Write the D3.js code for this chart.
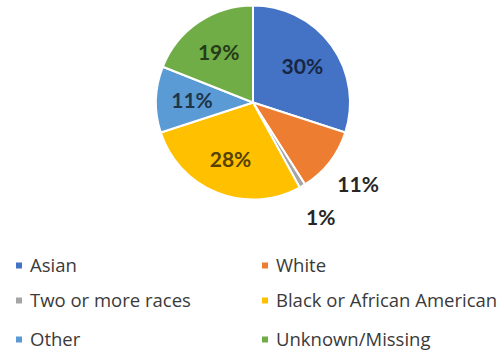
<!DOCTYPE html>
<html>
<head>
<meta charset="utf-8">
<script src="https://cdn.jsdelivr.net/npm/d3@7"></script>
<style>
  html, body { margin: 0; padding: 0; background: #fff; }
  svg { display: block; }
</style>
</head>
<body>
<svg id="chart" width="503" height="354"></svg>
<script>
// Share of respondents by race (percent)
const categories = ["Asian", "White", "Two or more races", "Black or African American", "Other", "Unknown/Missing"];
const values = [30, 11, 1, 28, 11, 19];
const colors = ["#4472C4", "#ED7D31", "#A5A5A5", "#FFC000", "#5B9BD5", "#70AD47"];
// Slices too thin for an inside label get theirs placed outside the pie
const outsideLabels = ["White", "Two or more races"];

const svg = d3.select("#chart");

const cx = 253, cy = 102.5, radius = 97;
const color = d3.scaleOrdinal().domain(categories).range(colors);

const pie = d3.pie().sort(null).value(d => d.value);
const data = categories.map((c, i) => ({ name: c, value: values[i] }));
const arcs = pie(data);

const arc = d3.arc().innerRadius(0).outerRadius(radius);
const inLabel = d3.arc().innerRadius(61).outerRadius(61);
const outLabel = d3.arc().innerRadius(133).outerRadius(133);

const g = svg.append("g").attr("transform", `translate(${cx},${cy})`);

g.selectAll("path.slice")
  .data(arcs)
  .join("path")
  .attr("class", "slice")
  .attr("d", arc)
  .attr("fill", d => color(d.data.name))
  .attr("stroke", "#fff")
  .attr("stroke-width", 2)
  .attr("stroke-linejoin", "round");

g.selectAll("text.pct")
  .data(arcs)
  .join("text")
  .attr("class", "pct")
  .attr("transform", d => {
    const out = outsideLabels.includes(d.data.name);
    const [x, y] = (out ? outLabel : inLabel).centroid(d);
    return `translate(${x},${y})`;
  })
  .attr("text-anchor", "middle")
  .attr("dy", "0.36em")
  .attr("font-family", "Lato, 'Open Sans', sans-serif")
  .attr("font-weight", "bold")
  .attr("font-size", 21)
  .attr("fill", d => outsideLabels.includes(d.data.name)
    ? "#262626"
    : d3.color(color(d.data.name)).darker(3).formatHex())
  .text(d => d.data.value + "%");

// Legend: two columns, three rows
const legendX = [16, 262];
const legendY = [266, 301, 340];
const legend = svg.append("g").attr("class", "legend");
const items = legend.selectAll("g.item")
  .data(categories)
  .join("g")
  .attr("class", "item")
  .attr("transform", (d, i) => `translate(${legendX[i % 2]},${legendY[Math.floor(i / 2)]})`);

items.append("rect")
  .attr("x", 0).attr("y", -3.5)
  .attr("width", 6).attr("height", 6)
  .attr("fill", d => color(d));

items.append("text")
  .attr("x", 14)
  .attr("dy", "0.35em")
  .attr("font-family", "'Open Sans', Lato, sans-serif")
  .attr("font-size", 18.5)
  .attr("fill", "#3a3a3a")
  .text(d => d);
</script>
</body>
</html>
